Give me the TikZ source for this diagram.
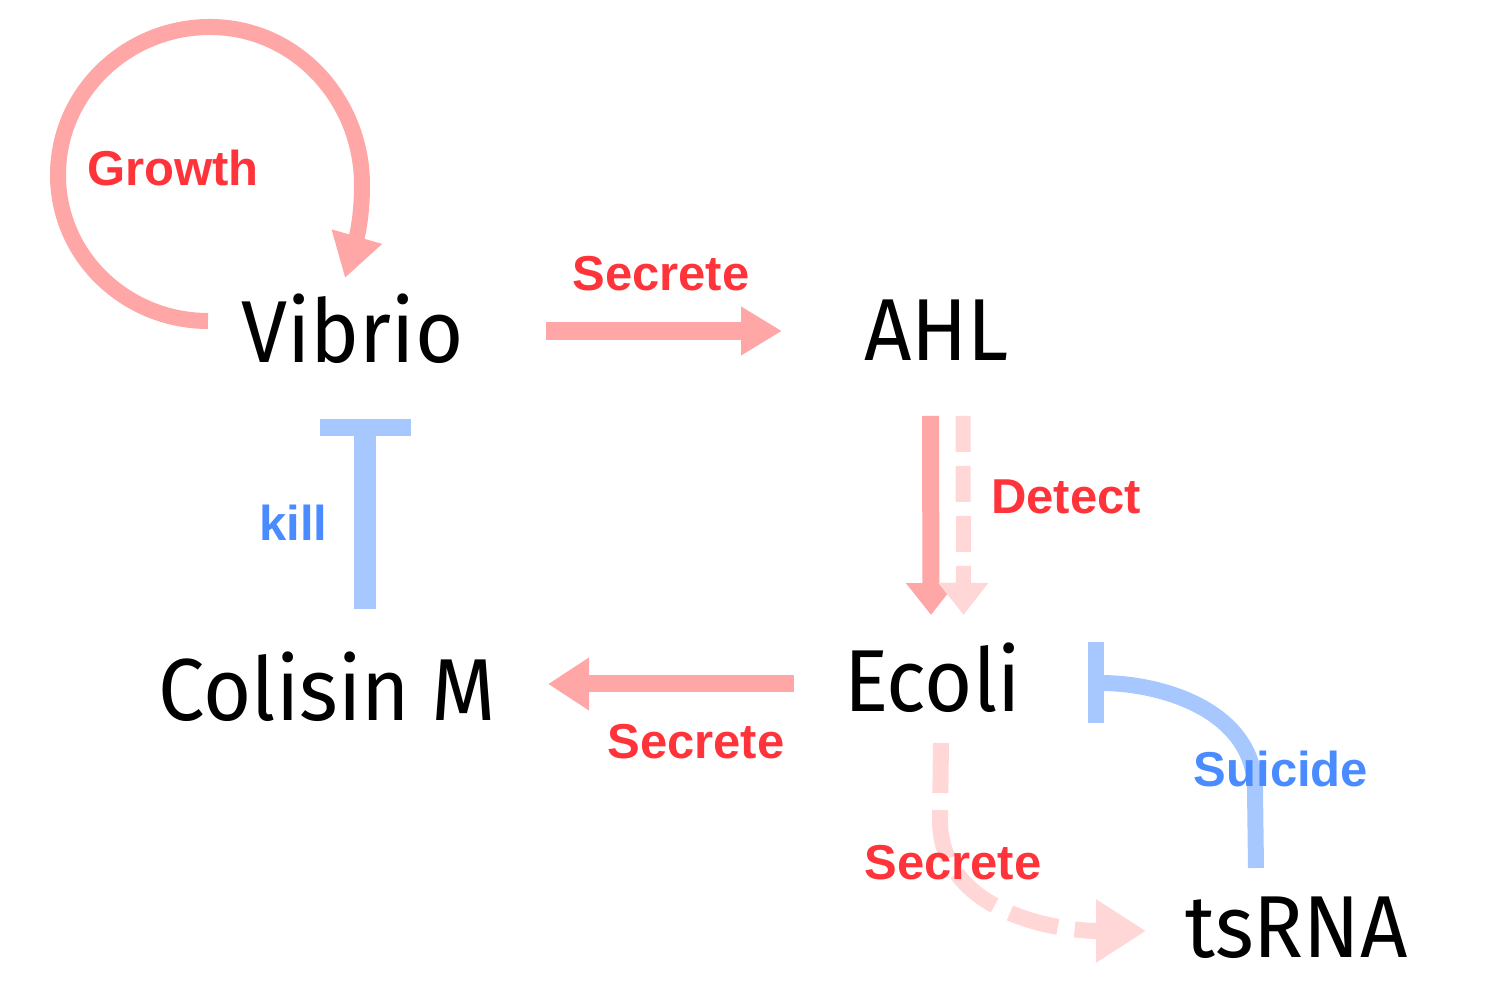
\documentclass[tikz,border=0pt]{standalone}
\usepackage{fontspec}
\setmainfont{Fira Sans}[FakeStretch=0.94]
\newfontfamily\lblfont{Liberation Sans}
\usetikzlibrary{arrows.meta,calc}
\definecolor{arrred}{HTML}{FFA6A6}
\definecolor{arrpale}{HTML}{FFD7D7}
\definecolor{arrblue}{HTML}{A6C8FF}
\definecolor{lblred}{HTML}{FF333A}
\definecolor{lblblue}{HTML}{4A8CFF}
\begin{document}
\begin{tikzpicture}[x=0.5pt,y=0.5pt,
  ent/.style={font=\fontsize{44}{50}\selectfont, inner sep=0pt, text=black},
  lbl/.style={font=\lblfont\bfseries\fontsize{24.5}{28}\selectfont, inner sep=0pt},
  redlbl/.style={lbl, text=lblred},
  bluelbl/.style={lbl, text=lblblue},
  act/.style={draw=arrred, line width=8.5pt},
  paleact/.style={draw=arrpale, line width=7.5pt},
  inh/.style={draw=arrblue, line width=8pt}
]
\useasboundingbox (0,0) rectangle (1500,988);

% entities
\node[ent] (Vibrio)  at (352.5,659) {Vibrio};
\node[ent] (AHL)     at (936.5,658) {AHL};
\node[ent] (Colisin) at (327.5,301.5) {Colisin M};
\node[ent] (Ecoli)   at (932.5,310) {Ecoli};
\node[ent] (tsRNA)   at (1296.5,60) {tsRNA};

% Growth loop
\draw[act, line width=8pt, -{Triangle[length=21.5pt,width=24.7pt]}]
  ($(Vibrio.center)+(-144.5,8)$) to[out=180,in=270]
  ($(Vibrio.center)+(-294.5,154)$) to[out=90,in=180]
  ($(Vibrio.center)+(-142.5,302)$) to[out=0,in=90]
  ($(Vibrio.center)+(9.5,144)$) to[out=270,in=74]
  ($(Vibrio.center)+(-7.5,51)$);

% Vibrio -> AHL
\draw[act, line width=9pt, -{Triangle[length=20.5pt,width=23pt]}]
  ($(Vibrio.center)+(193.5,-2)$) -- ($(AHL.center)+(-154.5,-1)$);

% AHL -> Ecoli (Detect)
\draw[act, -{Triangle[length=16pt,width=24pt]}]
  ($(AHL.center)+(-6,-86)$) -- ($(Ecoli.center)+(-1.5,63)$);
\draw[paleact, dash pattern=on 18pt off 7pt, -{Triangle[length=16pt,width=24pt]}]
  ($(AHL.center)+(26.5,-86)$) -- ($(Ecoli.center)+(31,63)$);

% Colisin M --| Vibrio (kill)
\draw[inh, line width=11pt, -{Rectangle[length=8.5pt,width=45.5pt]}]
  ($(Colisin.center)+(37.5,77.5)$) -- ($(Vibrio.center)+(12.5,-90)$);

% Ecoli -> Colisin M
\draw[act, -{Triangle[length=20.5pt,width=25pt]}]
  ($(Ecoli.center)+(-138.5,-6)$) -- ($(Colisin.center)+(220.5,2.5)$);

% Ecoli -> tsRNA (dashed)
\draw[paleact, line width=8pt, dash pattern=on 25pt off 8.5pt, -{Triangle[length=25pt,width=30pt]}]
  ($(Ecoli.center)+(8.5,-65)$) -- ($(Ecoli.center)+(7.5,-142)$)
  to[out=270,in=180] ($(tsRNA.center)+(-150.5,-3)$);

% tsRNA --| Ecoli (Suicide)
\draw[inh, -{Rectangle[length=8pt,width=40.5pt]}]
  ($(tsRNA.center)+(-40.5,60)$) -- ($(tsRNA.center)+(-41.5,138)$)
  to[out=90,in=0] ($(Ecoli.center)+(155.5,-5)$);

% labels
\node[redlbl]  (lgrowth)  at (173,820)   {Growth};
\node[redlbl]  (lsec1)    at (661,714)   {Secrete};
\node[redlbl]  (ldetect)  at (1066,491)  {Detect};
\node[bluelbl] (lkill)    at (293.5,465) {kill};
\node[redlbl]  (lsec2)    at (696,246)   {Secrete};
\node[redlbl]  (lsec3)    at (953,125)   {Secrete};
\node[bluelbl] (lsuicide) at (1281,219)  {Suicide};
\end{tikzpicture}
\end{document}
